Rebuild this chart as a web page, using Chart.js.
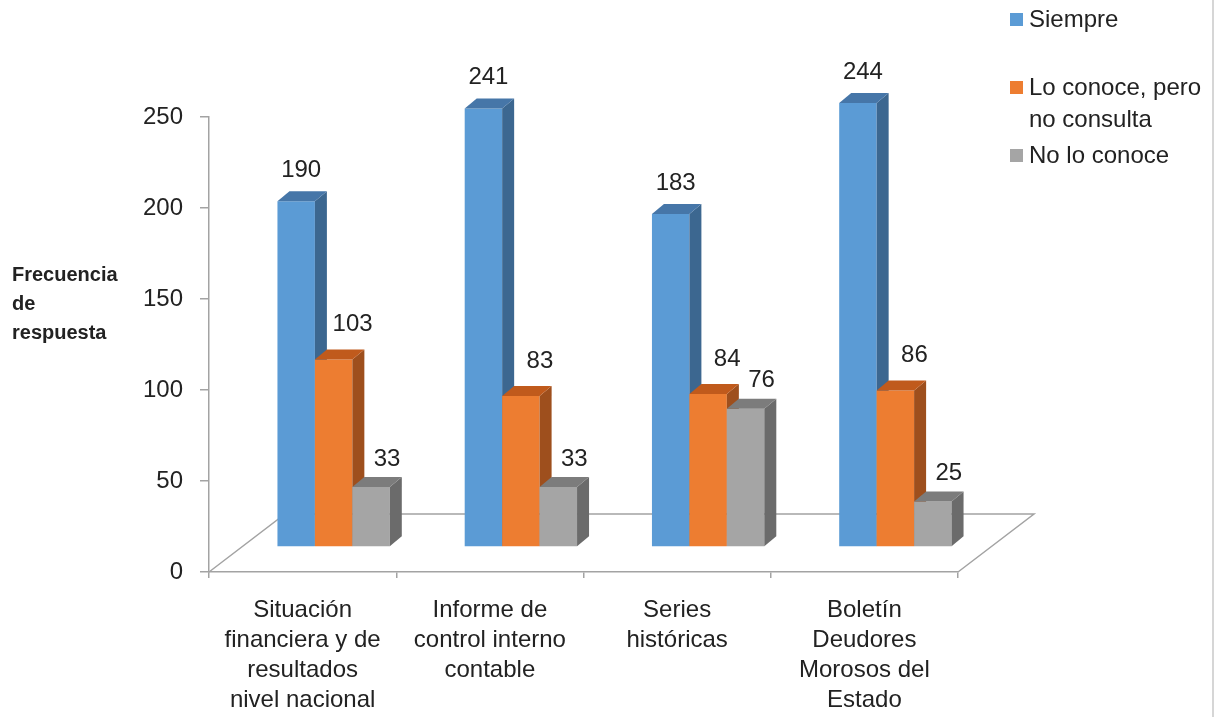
<!DOCTYPE html>
<html lang="es">
<head>
<meta charset="utf-8">
<title>Frecuencia de respuesta</title>
<script src="https://cdn.jsdelivr.net/npm/chart.js@4.4.1/dist/chart.umd.min.js"></script>
<style>
    html, body { margin: 0; padding: 0; background: #fff; }
    #wrap { position: relative; width: 1216px; height: 717px; }
</style>
</head>
<body>
<div id="wrap"><canvas id="grafico"></canvas></div>
<script>
// ==============================================
// DATOS
// ==============================================
const categorias = [
    ['Situación', 'financiera y de', 'resultados', 'nivel nacional'],
    ['Informe de', 'control interno', 'contable'],
    ['Series', 'históricas'],
    ['Boletín', 'Deudores', 'Morosos del', 'Estado']
];
const series = [['Siempre'], ['Lo conoce, pero', 'no consulta'], ['No lo conoce']];
const siempre = [190, 241, 183, 244];
const conoceNoConsulta = [103, 83, 84, 86];
const noConoce = [33, 33, 76, 25];
const ticksY = [0, 50, 100, 150, 200, 250];
const tituloEjeY = ['Frecuencia', 'de', 'respuesta'];

// ==============================================
// ESTILO
// ==============================================
const FUENTE = '"Liberation Sans", Arial, sans-serif';
const TEXTO = '#222222';
const GRIS_EJE = '#a3a3a3';
const PISO = { dx: 76, dy: -58 };     // fondo del piso 3D
const FRENTE = { dx: 31, dy: -25 };   // cara frontal de las barras
const PROF = { dx: 12, dy: -10 };     // profundidad de cada barra

// 3D bars: front face through Chart.js, side + top faces on top of it
const barras3d = {
    id: 'barras3d',
    beforeDatasetsDraw(chart) {
        const ctx = chart.ctx;
        const a = chart.chartArea;

        // floor
        ctx.save();
        ctx.strokeStyle = GRIS_EJE;
        ctx.lineWidth = 1.5;
        ctx.beginPath();
        ctx.moveTo(a.left, a.bottom);
        ctx.lineTo(a.left + PISO.dx, a.bottom + PISO.dy);
        ctx.lineTo(a.right + PISO.dx, a.bottom + PISO.dy);
        ctx.lineTo(a.right, a.bottom);
        ctx.stroke();
        ctx.restore();

        ctx.save();
        ctx.translate(FRENTE.dx, FRENTE.dy);
        chart.data.datasets.forEach((ds, i) => {
            const meta = chart.getDatasetMeta(i);
            if (meta.hidden) return;
            meta.data.forEach(bar => {
                const p = bar.getProps(['x', 'y', 'base', 'width'], true);
                const r = p.x + p.width / 2;
                const l = p.x - p.width / 2;
                bar.draw(ctx);
                // side
                ctx.fillStyle = ds.colorLado;
                ctx.beginPath();
                ctx.moveTo(r, p.y);
                ctx.lineTo(r + PROF.dx, p.y + PROF.dy);
                ctx.lineTo(r + PROF.dx, p.base + PROF.dy);
                ctx.lineTo(r, p.base);
                ctx.closePath();
                ctx.fill();
                // top
                ctx.fillStyle = ds.colorTapa;
                ctx.beginPath();
                ctx.moveTo(l, p.y);
                ctx.lineTo(l + PROF.dx, p.y + PROF.dy);
                ctx.lineTo(r + PROF.dx, p.y + PROF.dy);
                ctx.lineTo(r, p.y);
                ctx.closePath();
                ctx.fill();
            });
        });

        // value labels
        ctx.font = '24px ' + FUENTE;
        ctx.fillStyle = TEXTO;
        ctx.textAlign = 'center';
        ctx.textBaseline = 'middle';
        chart.data.datasets.forEach((ds, i) => {
            const meta = chart.getDatasetMeta(i);
            meta.data.forEach((bar, j) => {
                const p = bar.getProps(['x', 'y'], true);
                ctx.fillText(String(ds.data[j]), p.x + ds.etiqueta.dx, p.y + ds.etiqueta.dy);
            });
        });
        ctx.restore();
        return false;
    }
};

// legend, y title and right border
const extras = {
    id: 'extras',
    afterDraw(chart) {
        const ctx = chart.ctx;
        ctx.save();
        ctx.strokeStyle = '#c8c8c8';
        ctx.lineWidth = 1.5;
        ctx.beginPath();
        ctx.moveTo(1213, 0);
        ctx.lineTo(1213, 717);
        ctx.stroke();

        ctx.fillStyle = TEXTO;
        ctx.font = 'bold 20px ' + FUENTE;
        ctx.textAlign = 'left';
        ctx.textBaseline = 'middle';
        tituloEjeY.forEach((t, k) => ctx.fillText(t, 12, 275 + k * 29));

        const yLeyenda = [20, 88, 156];
        ctx.font = '24px ' + FUENTE;
        chart.data.datasets.forEach((ds, i) => {
            ctx.fillStyle = ds.backgroundColor;
            ctx.fillRect(1010, yLeyenda[i] - 7, 13, 13);
            ctx.fillStyle = TEXTO;
            series[i].forEach((linea, k) => ctx.fillText(linea, 1029, yLeyenda[i] + k * 32));
        });
        ctx.restore();
    }
};

new Chart(document.getElementById('grafico'), {
    type: 'bar',
    data: {
        labels: categorias,
        datasets: [
            {
                label: series[0].join(' '),
                data: siempre,
                backgroundColor: '#5B9BD5',
                colorLado: '#3C6790',
                colorTapa: '#4676A8',
                etiqueta: { dx: 5, dy: -31 }
            },
            {
                label: series[1].join(' '),
                data: conoceNoConsulta,
                backgroundColor: '#ED7D31',
                colorLado: '#9E4F1D',
                colorTapa: '#C05A1C',
                etiqueta: { dx: 19, dy: -35 }
            },
            {
                label: series[2].join(' '),
                data: noConoce,
                backgroundColor: '#A5A5A5',
                colorLado: '#6B6B6B',
                colorTapa: '#7C7C7C',
                etiqueta: { dx: 16, dy: -28 }
            }
        ]
    },
    options: {
        responsive: true,
        maintainAspectRatio: false,
        animation: false,
        events: [],
        categoryPercentage: 0.6,
        barPercentage: 1.0,
        borderWidth: 0,
        layout: { padding: { left: 0, right: 258, top: 117, bottom: 0 } },
        plugins: {
            legend: { display: false },
            tooltip: { enabled: false }
        },
        scales: {
            x: {
                afterFit(scale) { scale.height = 145; },
                grid: { drawOnChartArea: false, offset: true, tickLength: 6, color: GRIS_EJE, lineWidth: 1.5 },
                border: { display: true, color: GRIS_EJE, width: 1.5 },
                ticks: {
                    color: TEXTO,
                    font: { family: FUENTE, size: 24, lineHeight: 1.25 },
                    padding: 17,
                    maxRotation: 0,
                    autoSkip: false
                }
            },
            y: {
                min: ticksY[0],
                max: ticksY[ticksY.length - 1],
                afterFit(scale) { scale.width = 209; },
                grid: { drawOnChartArea: false, tickLength: 9, color: GRIS_EJE, lineWidth: 1.5 },
                border: { display: true, color: GRIS_EJE, width: 1.5 },
                ticks: {
                    stepSize: ticksY[1] - ticksY[0],
                    color: TEXTO,
                    font: { family: FUENTE, size: 24 },
                    padding: 17
                }
            }
        }
    },
    plugins: [barras3d, extras]
});
</script>
</body>
</html>
